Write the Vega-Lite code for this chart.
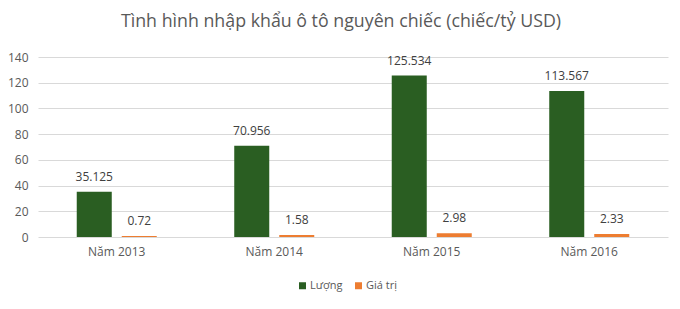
{
  "$schema": "https://vega.github.io/schema/vega-lite/v6.json",
  "autosize": "none",
  "width": 630,
  "height": 180,
  "padding": {"left": 38, "top": 57, "right": 12, "bottom": 72},
  "background": "white",
  "title": {
    "text": "Tình hình nhập khẩu ô tô nguyên chiếc (chiếc/tỷ USD)",
    "font": "Open Sans",
    "fontSize": 17.8,
    "fontWeight": "normal",
    "color": "#595959",
    "anchor": "middle",
    "dx": -12,
    "offset": 20
  },
  "data": {
    "values": [
      {"nam": "Năm 2013", "loai": "Lượng", "giatri": 35.125},
      {"nam": "Năm 2013", "loai": "Giá trị", "giatri": 0.72},
      {"nam": "Năm 2014", "loai": "Lượng", "giatri": 70.956},
      {"nam": "Năm 2014", "loai": "Giá trị", "giatri": 1.58},
      {"nam": "Năm 2015", "loai": "Lượng", "giatri": 125.534},
      {"nam": "Năm 2015", "loai": "Giá trị", "giatri": 2.98},
      {"nam": "Năm 2016", "loai": "Lượng", "giatri": 113.567},
      {"nam": "Năm 2016", "loai": "Giá trị", "giatri": 2.33}
    ]
  },
  "encoding": {
    "x": {
      "field": "nam",
      "type": "nominal",
      "scale": {"paddingInner": 0.492, "paddingOuter": 0.246},
      "axis": {
        "title": null,
        "labelAngle": 0,
        "ticks": false,
        "domain": false,
        "labelPadding": 9,
        "labelFont": "Open Sans",
        "labelFontSize": 12,
        "labelColor": "#595959"
      }
    },
    "xOffset": {
      "field": "loai",
      "type": "nominal",
      "sort": ["Lượng", "Giá trị"],
      "scale": {"paddingInner": 0.222, "paddingOuter": 0}
    },
    "y": {
      "field": "giatri",
      "type": "quantitative",
      "scale": {"domain": [0, 140], "nice": false},
      "axis": {
        "title": null,
        "values": [0, 20, 40, 60, 80, 100, 120, 140],
        "ticks": false,
        "domain": false,
        "labelPadding": 10,
        "labelFont": "Open Sans",
        "labelFontSize": 12,
        "labelColor": "#595959",
        "gridColor": "#d9d9d9",
        "gridWidth": 1
      }
    }
  },
  "layer": [
    {
      "mark": {"type": "bar"},
      "encoding": {
        "color": {
          "field": "loai",
          "type": "nominal",
          "sort": ["Lượng", "Giá trị"],
          "scale": {"domain": ["Lượng", "Giá trị"], "range": ["#2A5E22", "#ED7D31"]},
          "legend": {
            "title": null,
            "orient": "none",
            "legendX": 259,
            "legendY": 223,
            "direction": "horizontal",
            "symbolType": "square",
            "symbolSize": 49,
            "symbolStrokeWidth": 0,
            "labelFont": "Open Sans",
            "labelFontSize": 11,
            "labelColor": "#595959",
            "columnPadding": 10,
            "labelOffset": 2
          }
        }
      }
    },
    {
      "mark": {
        "type": "text",
        "baseline": "bottom",
        "dy": -8,
        "font": "Open Sans",
        "fontSize": 12,
        "color": "#404040"
      },
      "encoding": {
        "text": {"field": "giatri", "type": "nominal"}
      }
    }
  ],
  "config": {
    "view": {"stroke": null}
  }
}
